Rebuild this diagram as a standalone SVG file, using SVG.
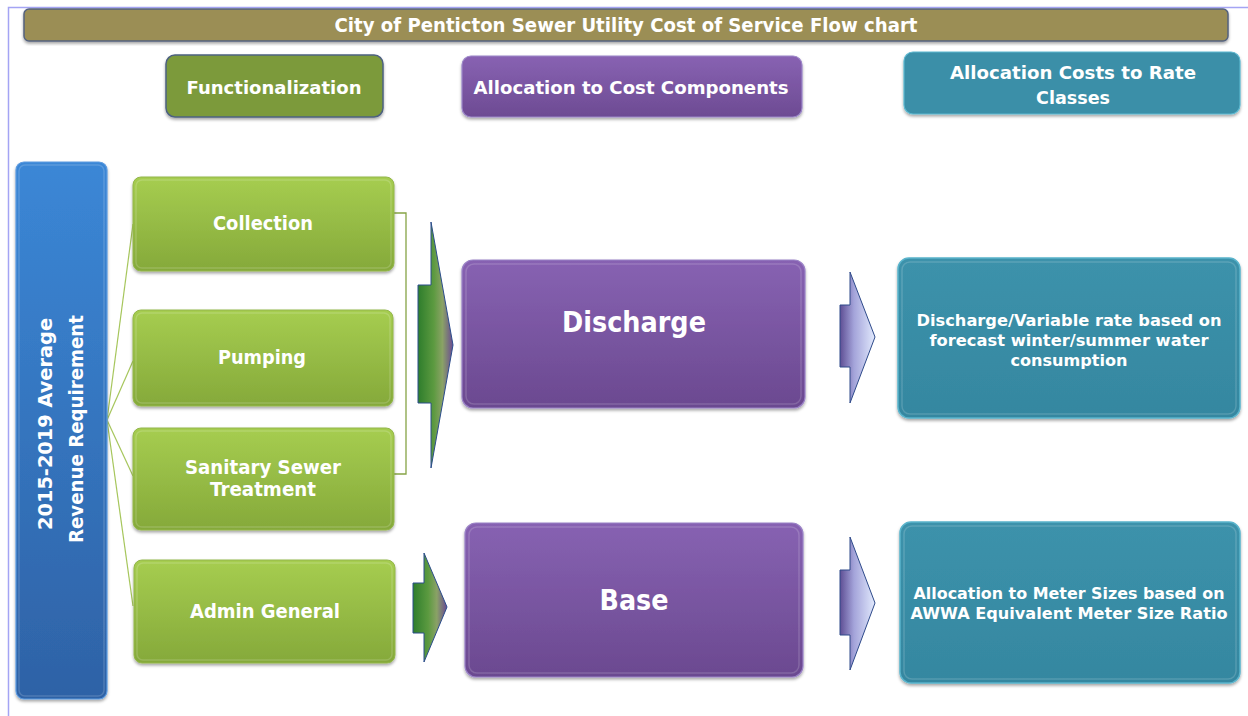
<svg xmlns="http://www.w3.org/2000/svg" width="1248" height="716" viewBox="0 0 1248 716">
  <style>
    .lbl { font-family: "DejaVu Sans", Verdana, sans-serif; font-weight: bold; fill: #ffffff; text-anchor: middle; }
    .hdr { font-size: 18px; }
    .fn { font-size: 19px; }
    .big { font-size: 29px; }
    .rc { font-size: 16px; }
    .edge { fill: none; stroke: #a6c65c; stroke-width: 1.2; }
    .bracket { fill: none; stroke: #86a446; stroke-width: 1.3; }
    .gloss { fill: none; stroke: #ffffff; stroke-opacity: 0.16; stroke-width: 1.5; }
  </style>
  <defs>
    <filter id="shadow" x="-5%" y="-5%" width="110%" height="120%">
      <feDropShadow dx="0" dy="2" stdDeviation="1.5" flood-color="#000000" flood-opacity="0.35"/>
    </filter>
    <linearGradient id="gGreen" x1="0" y1="0" x2="0" y2="1">
      <stop offset="0" stop-color="#a6cd50"/>
      <stop offset="1" stop-color="#85a93a"/>
    </linearGradient>
    <linearGradient id="gPurple" x1="0" y1="0" x2="0" y2="1">
      <stop offset="0" stop-color="#8762b2"/>
      <stop offset="1" stop-color="#6b4990"/>
    </linearGradient>
    <linearGradient id="gTeal" x1="0" y1="0" x2="0" y2="1">
      <stop offset="0" stop-color="#3c92ab"/>
      <stop offset="1" stop-color="#3587a0"/>
    </linearGradient>
    <linearGradient id="gBlue" x1="0" y1="0" x2="0" y2="1">
      <stop offset="0" stop-color="#3b87d6"/>
      <stop offset="1" stop-color="#2e62a6"/>
    </linearGradient>
    <linearGradient id="gHdrPurple" x1="0" y1="0" x2="0" y2="1">
      <stop offset="0" stop-color="#8862b2"/>
      <stop offset="1" stop-color="#6d4b93"/>
    </linearGradient>
    <linearGradient id="gArrowGreen1" gradientUnits="userSpaceOnUse" x1="418" y1="0" x2="453" y2="0">
      <stop offset="0" stop-color="#2e7d2c"/>
      <stop offset="0.45" stop-color="#5c9a40"/>
      <stop offset="0.7" stop-color="#8aa266"/>
      <stop offset="1" stop-color="#6a4a92"/>
    </linearGradient>
    <linearGradient id="gArrowGreen2" gradientUnits="userSpaceOnUse" x1="413" y1="0" x2="447" y2="0">
      <stop offset="0" stop-color="#2e7d2c"/>
      <stop offset="0.45" stop-color="#5c9a40"/>
      <stop offset="0.7" stop-color="#8aa266"/>
      <stop offset="1" stop-color="#6a4a92"/>
    </linearGradient>
    <linearGradient id="gArrowLav" gradientUnits="userSpaceOnUse" x1="840" y1="0" x2="875" y2="0">
      <stop offset="0" stop-color="#5e4e94"/>
      <stop offset="0.4" stop-color="#a4a4da"/>
      <stop offset="1" stop-color="#e2eafd"/>
    </linearGradient>
  </defs>

  <rect x="0" y="0" width="1248" height="716" fill="#ffffff"/>

  <!-- page frame -->
  <path d="M8.5,716 V7.5 H1248" fill="none" stroke="#a4a4f4" stroke-width="1.5"/>

  <!-- title bar -->
  <g id="title">
    <rect x="24" y="9" width="1204" height="32" rx="5" fill="#9b8e55" stroke="#54627e" stroke-width="1.5" filter="url(#shadow)"/>
    <text class="lbl" x="626" y="32" font-size="20" textLength="583" lengthAdjust="spacingAndGlyphs">City of Penticton Sewer Utility Cost of Service Flow chart</text>
  </g>

  <!-- column headers -->
  <g id="hdr-functionalization">
    <rect x="166" y="55" width="217" height="62" rx="9" fill="#7b9a3b" stroke="#4d6180" stroke-width="1.5" filter="url(#shadow)"/>
    <text class="lbl hdr" x="274" y="94" textLength="175" lengthAdjust="spacingAndGlyphs">Functionalization</text>
  </g>
  <g id="hdr-cost-components">
    <rect x="462" y="56" width="340" height="61" rx="9" fill="url(#gHdrPurple)" stroke="#9b86c8" stroke-width="1.2" filter="url(#shadow)"/>
    <text class="lbl hdr" x="631" y="94" textLength="315" lengthAdjust="spacingAndGlyphs">Allocation to Cost Components</text>
  </g>
  <g id="hdr-rate-classes">
    <rect x="904" y="52" width="336" height="62" rx="9" fill="#3a8fa8" stroke="#5cb8d0" stroke-width="1.2" filter="url(#shadow)"/>
    <text class="lbl hdr" x="1073" y="79" textLength="246" lengthAdjust="spacingAndGlyphs">Allocation Costs to Rate</text>
    <text class="lbl hdr" x="1073" y="104" textLength="74" lengthAdjust="spacingAndGlyphs">Classes</text>
  </g>

  <!-- connectors -->
  <g id="connectors">
    <path class="edge" d="M107,420 L133,224"/>
    <path class="edge" d="M107,420 L133,361"/>
    <path class="edge" d="M107,420 L133,476"/>
    <path class="edge" d="M107,420 L133,606"/>
    <path class="bracket" d="M394,213 H406 V474 H394"/>
    <path id="arrow-functions-discharge" d="M418,285 H431 V222 L453,345 L431,468 V403 H418 Z" fill="url(#gArrowGreen1)" stroke="#2b4c8c" stroke-width="1"/>
    <path id="arrow-admin-base" d="M413,583 H424 V553 L447,607 L424,662 V633 H413 Z" fill="url(#gArrowGreen2)" stroke="#2b4c8c" stroke-width="1"/>
    <path id="arrow-discharge-rate" d="M840,305 H850 V272 L875,337 L850,403 V367 H840 Z" fill="url(#gArrowLav)" stroke="#2e4a8a" stroke-width="1"/>
    <path id="arrow-base-rate" d="M840,570 H850 V537 L875,603 L850,670 V635 H840 Z" fill="url(#gArrowLav)" stroke="#2e4a8a" stroke-width="1"/>
  </g>

  <!-- revenue requirement -->
  <g id="revenue-requirement">
    <rect x="16" y="162" width="91" height="537" rx="8" fill="url(#gBlue)" stroke="#5d9be0" stroke-width="1.2" filter="url(#shadow)"/>
    <rect x="19" y="165" width="85" height="531" rx="6" class="gloss"/>
    <text class="lbl" font-size="19" transform="translate(52,424) rotate(-90)" textLength="212" lengthAdjust="spacingAndGlyphs">2015-2019 Average</text>
    <text class="lbl" font-size="19" transform="translate(83,429) rotate(-90)" textLength="228" lengthAdjust="spacingAndGlyphs">Revenue Requirement</text>
  </g>

  <!-- functionalization -->
  <g id="collection">
    <rect x="133" y="177" width="261" height="94" rx="8" fill="url(#gGreen)" stroke="#93b64a" stroke-width="1" filter="url(#shadow)"/>
    <rect x="136" y="180" width="255" height="88" rx="6" class="gloss"/>
    <text class="lbl fn" x="263" y="230" textLength="100" lengthAdjust="spacingAndGlyphs">Collection</text>
  </g>
  <g id="pumping">
    <rect x="133" y="310" width="260" height="96" rx="8" fill="url(#gGreen)" stroke="#93b64a" stroke-width="1" filter="url(#shadow)"/>
    <rect x="136" y="313" width="254" height="90" rx="6" class="gloss"/>
    <text class="lbl fn" x="262" y="364" textLength="88" lengthAdjust="spacingAndGlyphs">Pumping</text>
  </g>
  <g id="sanitary-sewer-treatment">
    <rect x="133" y="428" width="261" height="102" rx="8" fill="url(#gGreen)" stroke="#93b64a" stroke-width="1" filter="url(#shadow)"/>
    <rect x="136" y="431" width="255" height="96" rx="6" class="gloss"/>
    <text class="lbl fn" x="263" y="474" textLength="156" lengthAdjust="spacingAndGlyphs">Sanitary Sewer</text>
    <text class="lbl fn" x="263" y="496" textLength="106" lengthAdjust="spacingAndGlyphs">Treatment</text>
  </g>
  <g id="admin-general">
    <rect x="134" y="560" width="261" height="103" rx="8" fill="url(#gGreen)" stroke="#93b64a" stroke-width="1" filter="url(#shadow)"/>
    <rect x="137" y="563" width="255" height="97" rx="6" class="gloss"/>
    <text class="lbl fn" x="265" y="618" textLength="150" lengthAdjust="spacingAndGlyphs">Admin General</text>
  </g>

  <!-- cost components -->
  <g id="discharge">
    <rect x="462" y="260" width="343" height="148" rx="11" fill="url(#gPurple)" stroke="#9a82c6" stroke-width="1.2" filter="url(#shadow)"/>
    <rect x="466" y="264" width="335" height="140" rx="8" class="gloss"/>
    <text class="lbl big" x="634" y="332" textLength="144" lengthAdjust="spacingAndGlyphs">Discharge</text>
  </g>
  <g id="base">
    <rect x="465" y="523" width="338" height="154" rx="11" fill="url(#gPurple)" stroke="#9a82c6" stroke-width="1.2" filter="url(#shadow)"/>
    <rect x="469" y="527" width="330" height="146" rx="8" class="gloss"/>
    <text class="lbl big" x="634" y="610" textLength="69" lengthAdjust="spacingAndGlyphs">Base</text>
  </g>

  <!-- rate classes -->
  <g id="discharge-rate">
    <rect x="898" y="258" width="342" height="160" rx="11" fill="url(#gTeal)" stroke="#5ab4cc" stroke-width="1.5" filter="url(#shadow)"/>
    <rect x="902" y="262" width="334" height="152" rx="8" class="gloss"/>
    <text class="lbl rc" x="1069" y="326" textLength="305" lengthAdjust="spacingAndGlyphs">Discharge/Variable rate based on</text>
    <text class="lbl rc" x="1069" y="346" textLength="279" lengthAdjust="spacingAndGlyphs">forecast winter/summer water</text>
    <text class="lbl rc" x="1069" y="366" textLength="117" lengthAdjust="spacingAndGlyphs">consumption</text>
  </g>
  <g id="meter-size-allocation">
    <rect x="900" y="522" width="340" height="161" rx="11" fill="url(#gTeal)" stroke="#5ab4cc" stroke-width="1.5" filter="url(#shadow)"/>
    <rect x="904" y="526" width="332" height="153" rx="8" class="gloss"/>
    <text class="lbl rc" x="1069" y="599" textLength="311" lengthAdjust="spacingAndGlyphs">Allocation to Meter Sizes based on</text>
    <text class="lbl rc" x="1069" y="619" textLength="317" lengthAdjust="spacingAndGlyphs">AWWA Equivalent Meter Size Ratio</text>
  </g>
</svg>
